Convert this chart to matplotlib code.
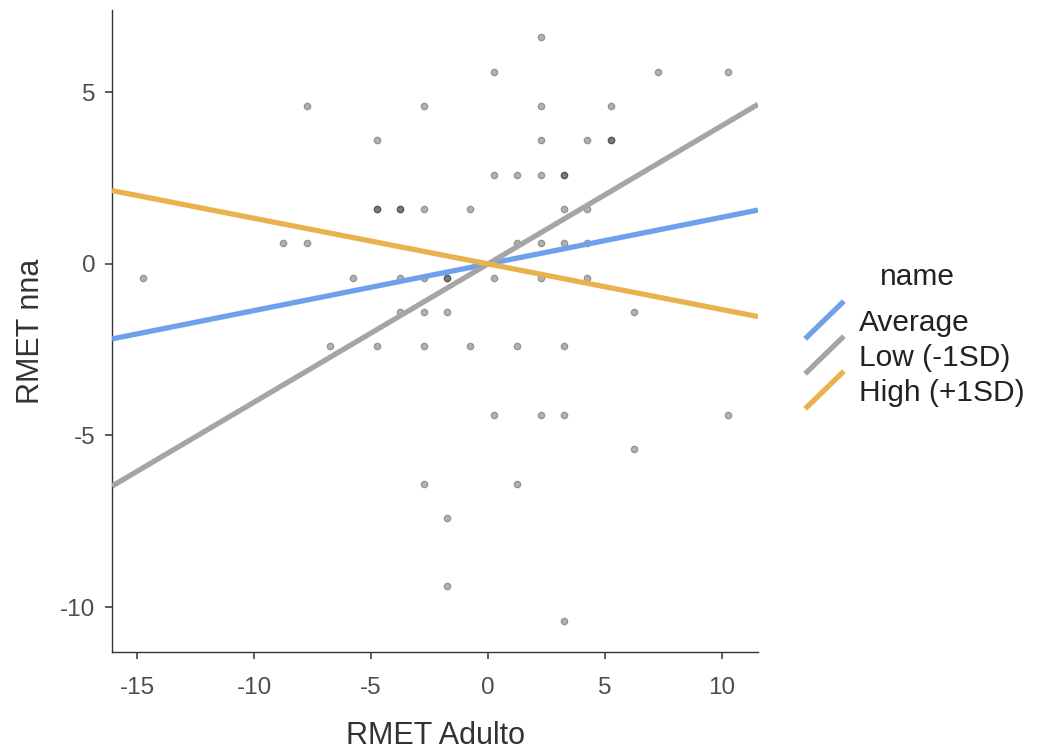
import matplotlib
matplotlib.use("Agg")
import matplotlib.pyplot as plt
from matplotlib.lines import Line2D
import numpy as np

plt.rcParams['font.family'] = ['Liberation Sans', 'DejaVu Sans']

# ---- data ----
point_x = [2.25,
           0.25, 7.25, 10.25,
           -7.75, -2.75, 2.25, 5.25,
           -4.75, 2.25, 4.25, 5.25, 5.25,
           0.25, 1.25, 2.25, 3.25, 3.25,
           -4.75, -4.75, -3.75, -3.75, -2.75, -0.75, 3.25, 4.25,
           -8.75, -7.75, 1.25, 2.25, 3.25, 4.25,
           -14.75, -5.75, -3.75, -2.75, -1.75, -1.75, 0.25, 2.25, 4.25,
           -3.75, -2.75, -1.75, 6.25,
           -6.75, -4.75, -2.75, -0.75, 1.25, 3.25,
           0.25, 2.25, 3.25, 10.25,
           6.25,
           -2.75, 1.25,
           -1.75,
           -1.75,
           3.25]
point_y = [6.6,
           5.6, 5.6, 5.6,
           4.6, 4.6, 4.6, 4.6,
           3.6, 3.6, 3.6, 3.6, 3.6,
           2.6, 2.6, 2.6, 2.6, 2.6,
           1.6, 1.6, 1.6, 1.6, 1.6, 1.6, 1.6, 1.6,
           0.6, 0.6, 0.6, 0.6, 0.6, 0.6,
           -0.4, -0.4, -0.4, -0.4, -0.4, -0.4, -0.4, -0.4, -0.4,
           -1.4, -1.4, -1.4, -1.4,
           -2.4, -2.4, -2.4, -2.4, -2.4, -2.4,
           -4.4, -4.4, -4.4, -4.4,
           -5.4,
           -6.4, -6.4,
           -7.4,
           -9.4,
           -10.4]

line_names = ["Average", "Low (-1SD)", "High (+1SD)"]
line_slopes = [0.136, 0.403, -0.133]
line_intercepts = [0.0, 0.0, 0.0]
line_colors = ["#70A0EC", "#A5A5A5", "#E8B24C"]

x_ticks = [-15, -10, -5, 0, 5, 10]
y_ticks = [5, 0, -5, -10]
x_lim = (-16.07, 11.54)
y_lim = (-11.31, 7.4)

# ---- figure ----
W, H = 1038, 754
fig = plt.figure(figsize=(W / 100, H / 100), dpi=100)
ax = fig.add_axes([112 / W, 1 - 652 / H, (758 - 112) / W, (652 - 10) / H])

ax.scatter(point_x, point_y, s=22, c="black", alpha=0.30, linewidths=0.9,
           edgecolors="black", zorder=2)

xs = np.array(x_lim)
for name, b, a, col in zip(line_names, line_slopes, line_intercepts, line_colors):
    ax.plot(xs, a + b * xs, color=col, lw=3.8, solid_capstyle="butt", zorder=3)

ax.set_xlim(*x_lim)
ax.set_ylim(*y_lim)
ax.set_xticks(x_ticks)
ax.set_yticks(y_ticks)
ax.set_xticklabels([str(t) for t in x_ticks])
ax.set_yticklabels([str(t) for t in y_ticks])
for s in ["top", "right"]:
    ax.spines[s].set_visible(False)
for s in ["left", "bottom"]:
    ax.spines[s].set_linewidth(1.0)
    ax.spines[s].set_color("#333333")
ax.tick_params(axis="both", length=5, width=1.1, color="#333333",
               labelsize=17.5, labelcolor="#4D4D4D")
ax.tick_params(axis="x", pad=13)
ax.tick_params(axis="y", pad=7)

ax.set_xlabel("RMET Adulto", fontsize=22, color="#333333", labelpad=16)
ax.set_ylabel("RMET nna", fontsize=22, color="#333333", labelpad=10)

# ---- legend (manual, ggplot-like diagonal keys) ----
def fx(px):
    return px / W

def fy(py):
    return 1 - py / H

fig.text(fx(917), fy(277), "name", fontsize=21.5, color="#222222",
         ha="center", va="center")
label_y = [323, 358, 393]
for name, col, ly in zip(line_names, line_colors, label_y):
    fig.add_artist(Line2D([fx(807), fx(842)], [fy(ly + 14), fy(ly - 20)],
                          color=col, lw=3.8, transform=fig.transFigure))
    fig.text(fx(859), fy(ly), name, fontsize=21.5, color="#222222",
             ha="left", va="center")

fig.savefig("out.png", dpi=100)
